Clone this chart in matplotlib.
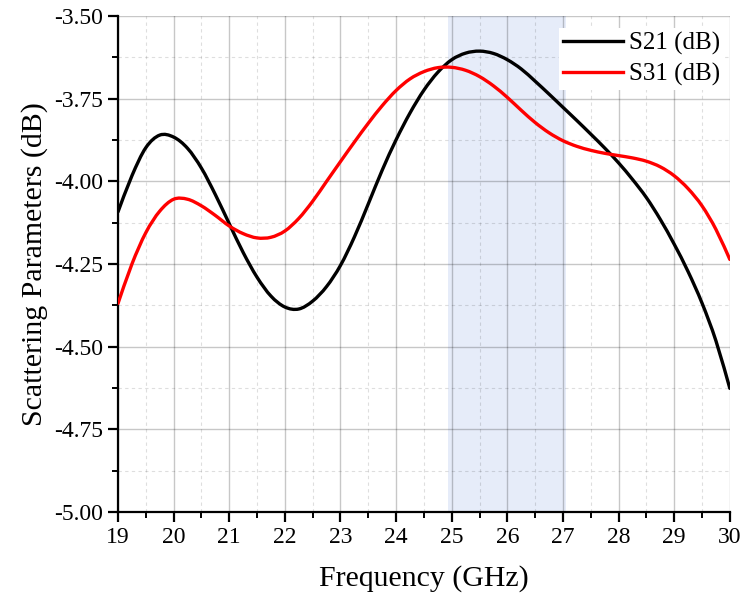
import numpy as np
import matplotlib
matplotlib.use('Agg')
import matplotlib.pyplot as plt
import matplotlib.ticker as mtick
from matplotlib.path import Path
from matplotlib.patches import PathPatch
from matplotlib.lines import Line2D
plt.rcParams["font.family"] = "serif"
plt.rcParams["font.serif"] = ["Liberation Serif", "DejaVu Serif"]

# frequency points (GHz)
freq = [19.0, 19.25, 19.5, 19.75, 20.0, 20.25, 20.5, 20.75, 21.0, 21.25, 21.5, 21.75,
        22.0, 22.25, 22.5, 22.75, 23.0, 23.25, 23.5, 23.75, 24.0, 24.25, 24.5, 24.75,
        25.0, 25.25, 25.5, 25.75, 26.0, 26.25, 26.5, 26.75, 27.0, 27.25, 27.5, 27.75,
        28.0, 28.25, 28.5, 28.75, 29.0, 29.25, 29.5, 29.75, 30.0]

s21 = [-4.092, -3.983, -3.898, -3.860, -3.866, -3.900, -3.960, -4.040, -4.128, -4.215, -4.290, -4.347,
       -4.380, -4.386, -4.362, -4.318, -4.254, -4.168, -4.068, -3.966, -3.874, -3.793, -3.724, -3.670,
       -3.632, -3.612, -3.606, -3.613, -3.632, -3.660, -3.697, -3.736, -3.776, -3.816, -3.857, -3.899,
       -3.944, -3.994, -4.049, -4.115, -4.190, -4.273, -4.368, -4.482, -4.626]

s31 = [-4.369, -4.250, -4.155, -4.090, -4.054, -4.054, -4.074, -4.103, -4.135, -4.158, -4.171, -4.169,
       -4.150, -4.112, -4.060, -4.000, -3.940, -3.881, -3.824, -3.771, -3.725, -3.690, -3.668, -3.656,
       -3.655, -3.664, -3.683, -3.711, -3.746, -3.785, -3.822, -3.853, -3.877, -3.894, -3.906, -3.915,
       -3.922, -3.929, -3.939, -3.956, -3.983, -4.022, -4.074, -4.145, -4.236]

band = (24.94, 27.06)


def smooth_path(x, y):
    # Catmull-Rom through the points, drawn as cubic Bezier segments
    p = np.column_stack([x, y])
    ext = np.vstack([p[0], p, p[-1]])
    verts = [p[0]]
    codes = [Path.MOVETO]
    for i in range(1, len(ext) - 2):
        c1 = ext[i] + (ext[i + 1] - ext[i - 1]) / 6.0
        c2 = ext[i + 1] - (ext[i + 2] - ext[i]) / 6.0
        verts += [c1, c2, ext[i + 1]]
        codes += [Path.CURVE4] * 3
    return Path(verts, codes)


fig = plt.figure(figsize=(7.47, 6.07), dpi=100)
ax = fig.add_axes([0.158, 0.1565, 0.819, 0.817])

ax.axvspan(band[0], band[1], color="#e6ecf9", zorder=0, lw=0)

for yy, col in [(s21, "black"), (s31, "#ff0000")]:
    ax.add_patch(PathPatch(smooth_path(freq, yy), fill=False, edgecolor=col, lw=2.4,
                           capstyle="round", joinstyle="round", zorder=3))

ax.set_xlim(19, 30)
ax.set_ylim(-5.0, -3.5)
ax.xaxis.set_major_locator(mtick.MultipleLocator(1))
ax.xaxis.set_minor_locator(mtick.MultipleLocator(0.5))
ax.yaxis.set_major_locator(mtick.MultipleLocator(0.25))
ax.yaxis.set_minor_locator(mtick.MultipleLocator(0.125))
ax.yaxis.set_major_formatter(mtick.FormatStrFormatter("%.2f"))

ax.grid(which="major", color="black", alpha=0.22, lw=1.0, ls="-", zorder=1)
ax.grid(which="minor", color="black", alpha=0.13, lw=0.8, ls=(0, (3, 3)), zorder=1)
ax.set_axisbelow(True)

for s in ["top", "right"]:
    ax.spines[s].set_visible(False)
for s in ["left", "bottom"]:
    ax.spines[s].set_linewidth(1.6)

ax.tick_params(which="major", direction="out", length=7, width=1.6, labelsize=17, pad=4)
ax.tick_params(which="minor", direction="out", length=4, width=1.4)

ax.set_xlabel("Frequency (GHz)", fontsize=21.5, labelpad=12)
ax.set_ylabel("Scattering Parameters (dB)", fontsize=21.5, labelpad=4)

handles = [Line2D([], [], color="black", lw=2.4, label="S21 (dB)"),
           Line2D([], [], color="#ff0000", lw=2.4, label="S31 (dB)")]
leg = ax.legend(handles=handles, loc="upper right", bbox_to_anchor=(0.99, 0.975),
                frameon=True, fontsize=18, handlelength=2.4, handletextpad=0.25,
                borderaxespad=0.0, borderpad=0.15, labelspacing=0.3, fancybox=False)
leg.get_frame().set_facecolor("white")
leg.get_frame().set_edgecolor("none")
leg.get_frame().set_alpha(1.0)

plt.savefig("out.png", dpi=100)
plt.close()
